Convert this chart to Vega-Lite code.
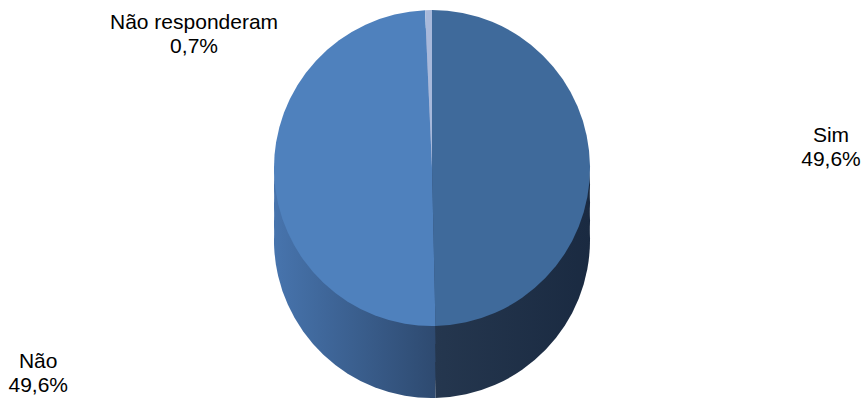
{
  "$schema": "https://vega.github.io/schema/vega-lite/v6.json",
  "width": 864,
  "height": 336,
  "autosize": {"type": "none"},
  "padding": {"left": 0, "right": 0, "top": 0, "bottom": 62},
  "background": "white",
  "config": {"view": {"stroke": null}},
  "data": {
    "values": [
      {"resposta": "Sim", "percentual": 49.6, "rotulo": "Sim\n49,6%", "ordem": 1},
      {"resposta": "Não", "percentual": 49.6, "rotulo": "Não\n49,6%", "ordem": 2},
      {"resposta": "Não responderam", "percentual": 0.7, "rotulo": "Não responderam\n0,7%", "ordem": 3}
    ]
  },
  "encoding": {
    "theta": {"field": "percentual", "type": "quantitative", "stack": true},
    "order": {"field": "ordem", "type": "quantitative"}
  },
  "layer": [
    {
      "mark": {"type": "arc", "outerRadius": 158, "yOffset": 72},
      "encoding": {
        "color": {
          "condition": [
            {"test": "datum.resposta === 'Sim'", "value": {"gradient": "linear", "x1": 0, "y1": 0, "x2": 1, "y2": 0, "stops": [{"offset": 0, "color": "#25374F"}, {"offset": 1, "color": "#1A2A41"}]}},
            {"test": "datum.resposta === 'Não'", "value": {"gradient": "linear", "x1": 0, "y1": 0, "x2": 1, "y2": 0, "stops": [{"offset": 0, "color": "#4774AD"}, {"offset": 1, "color": "#2E4A70"}]}}
          ],
          "value": "#8C9EC4"
        }
      }
    },
    {
      "mark": {"type": "arc", "outerRadius": 158, "yOffset": 54},
      "encoding": {
        "color": {
          "condition": [
            {"test": "datum.resposta === 'Sim'", "value": {"gradient": "linear", "x1": 0, "y1": 0, "x2": 1, "y2": 0, "stops": [{"offset": 0, "color": "#25374F"}, {"offset": 1, "color": "#1A2A41"}]}},
            {"test": "datum.resposta === 'Não'", "value": {"gradient": "linear", "x1": 0, "y1": 0, "x2": 1, "y2": 0, "stops": [{"offset": 0, "color": "#4774AD"}, {"offset": 1, "color": "#2E4A70"}]}}
          ],
          "value": "#8C9EC4"
        }
      }
    },
    {
      "mark": {"type": "arc", "outerRadius": 158, "yOffset": 36},
      "encoding": {
        "color": {
          "condition": [
            {"test": "datum.resposta === 'Sim'", "value": {"gradient": "linear", "x1": 0, "y1": 0, "x2": 1, "y2": 0, "stops": [{"offset": 0, "color": "#25374F"}, {"offset": 1, "color": "#1A2A41"}]}},
            {"test": "datum.resposta === 'Não'", "value": {"gradient": "linear", "x1": 0, "y1": 0, "x2": 1, "y2": 0, "stops": [{"offset": 0, "color": "#4774AD"}, {"offset": 1, "color": "#2E4A70"}]}}
          ],
          "value": "#8C9EC4"
        }
      }
    },
    {
      "mark": {"type": "arc", "outerRadius": 158, "yOffset": 18},
      "encoding": {
        "color": {
          "condition": [
            {"test": "datum.resposta === 'Sim'", "value": {"gradient": "linear", "x1": 0, "y1": 0, "x2": 1, "y2": 0, "stops": [{"offset": 0, "color": "#25374F"}, {"offset": 1, "color": "#1A2A41"}]}},
            {"test": "datum.resposta === 'Não'", "value": {"gradient": "linear", "x1": 0, "y1": 0, "x2": 1, "y2": 0, "stops": [{"offset": 0, "color": "#4774AD"}, {"offset": 1, "color": "#2E4A70"}]}}
          ],
          "value": "#8C9EC4"
        }
      }
    },
    {
      "mark": {"type": "arc", "outerRadius": 158},
      "encoding": {
        "color": {
          "field": "resposta",
          "type": "nominal",
          "scale": {"domain": ["Sim", "Não", "Não responderam"], "range": ["#3F6A9B", "#4F81BD", "#A8B9DB"]},
          "legend": null
        }
      }
    },
    {
      "mark": {"type": "text", "radius": 399, "dy": -28, "font": "Liberation Sans", "fontSize": 21, "lineBreak": "\n", "lineHeight": 24, "align": "center", "baseline": "middle", "color": "black"},
      "encoding": {
        "detail": {"field": "resposta", "type": "nominal"},
        "text": {"condition": {"test": "datum.resposta === 'Sim'", "field": "rotulo"}, "value": ""}
      }
    },
    {
      "mark": {"type": "text", "radius": 394, "dy": 181, "font": "Liberation Sans", "fontSize": 21, "lineBreak": "\n", "lineHeight": 24, "align": "center", "baseline": "middle", "color": "black"},
      "encoding": {
        "detail": {"field": "resposta", "type": "nominal"},
        "text": {"condition": {"test": "datum.resposta === 'Não'", "field": "rotulo"}, "value": ""}
      }
    },
    {
      "mark": {"type": "text", "radius": 134, "dx": -235, "dy": -11, "font": "Liberation Sans", "fontSize": 21, "lineBreak": "\n", "lineHeight": 24, "align": "center", "baseline": "middle", "color": "black"},
      "encoding": {
        "detail": {"field": "resposta", "type": "nominal"},
        "text": {"condition": {"test": "datum.resposta === 'Não responderam'", "field": "rotulo"}, "value": ""}
      }
    }
  ]
}
